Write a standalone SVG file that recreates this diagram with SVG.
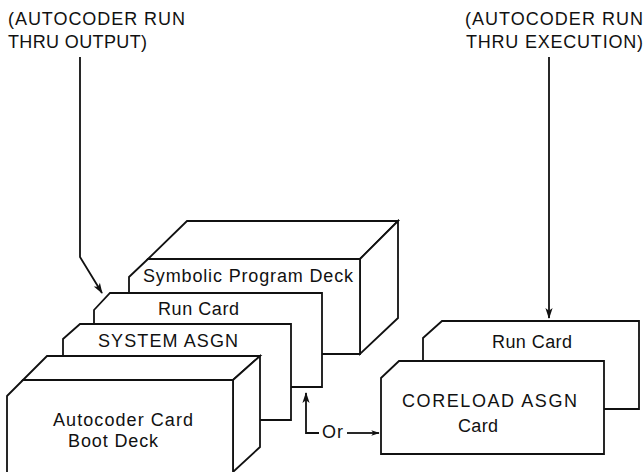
<svg xmlns="http://www.w3.org/2000/svg" width="644" height="472" viewBox="0 0 644 472">
<defs>
<style>
.s{fill:#fff;stroke:#111;stroke-width:1.8;stroke-linejoin:miter}
.c{fill:none;stroke:#111;stroke-width:1.8}
text{font-family:"Liberation Sans",Arial,sans-serif;font-size:18px;fill:#111}
</style>
<marker id="ah" viewBox="0 0 12 10" refX="11" refY="5" markerWidth="12" markerHeight="9" markerUnits="userSpaceOnUse" orient="auto">
<path d="M0,1 L12,5 L0,9 L3,5 z" fill="#111"/>
</marker>
<marker id="ahs" viewBox="0 0 12 10" refX="11" refY="5" markerWidth="9" markerHeight="7" markerUnits="userSpaceOnUse" orient="auto">
<path d="M0,1 L12,5 L0,9 L3,5 z" fill="#111"/>
</marker>
</defs>
<rect width="644" height="472" fill="#fff"/>
<text x="8" y="25" textLength="177" lengthAdjust="spacing">(AUTOCODER RUN</text>
<text x="8" y="48" textLength="139" lengthAdjust="spacing">THRU OUTPUT)</text>
<text x="465" y="25" textLength="178" lengthAdjust="spacing">(AUTOCODER RUN</text>
<text x="466" y="48" textLength="177" lengthAdjust="spacing">THRU EXECUTION)</text>

<g id="symbolic-deck">
<polygon class="s" points="148,259 187,221 398,221 360,259"/>
<polygon class="s" points="360,259 398,221 398,318 360,354"/>
<polygon class="s" points="129,277 148,259 360,259 360,354 129,354"/>
<text x="143" y="282" textLength="210" lengthAdjust="spacing">Symbolic Program Deck</text>
</g>
<g id="run-card-left">
<polygon class="s" points="94,310 110,293 322,293 322,387 94,387"/>
<text x="158" y="315" textLength="81" lengthAdjust="spacing">Run Card</text>
</g>
<g id="system-asgn">
<polygon class="s" points="63,339 80,324 291,324 291,420 63,420"/>
<text x="98" y="347" textLength="140" lengthAdjust="spacing">SYSTEM ASGN</text>
</g>
<g id="boot-deck">
<polygon class="s" points="23,380 47,356 260,356 233,380"/>
<polygon class="s" points="233,380 260,356 260,447 233,472"/>
<polygon class="s" points="7,396 23,380 233,380 233,480 7,480"/>
<text x="53" y="426" textLength="140" lengthAdjust="spacing">Autocoder Card</text>
<text x="68" y="447" textLength="90" lengthAdjust="spacing">Boot Deck</text>
</g>
<g id="run-card-right">
<polygon class="s" points="423,338 442,321 639,321 639,409 423,409"/>
<text x="492" y="348" textLength="80" lengthAdjust="spacing">Run Card</text>
</g>
<g id="coreload-asgn">
<polygon class="s" points="381,378 399,361 604,361 604,454 381,454"/>
<text x="402" y="407" textLength="175" lengthAdjust="spacing">CORELOAD ASGN</text>
<text x="458" y="432" textLength="40" lengthAdjust="spacing">Card</text>
</g>

<g id="connectors">
<path class="c" d="M80,57 V257 L102,293" marker-end="url(#ah)"/>
<path class="c" d="M549,57 V318" marker-end="url(#ah)"/>
<path class="c" d="M319,433 H306 V393" marker-end="url(#ah)"/>
<path class="c" d="M347,433 H379" marker-end="url(#ahs)"/>
<text x="322" y="438" textLength="21" lengthAdjust="spacing">Or</text>
</g>
</svg>
